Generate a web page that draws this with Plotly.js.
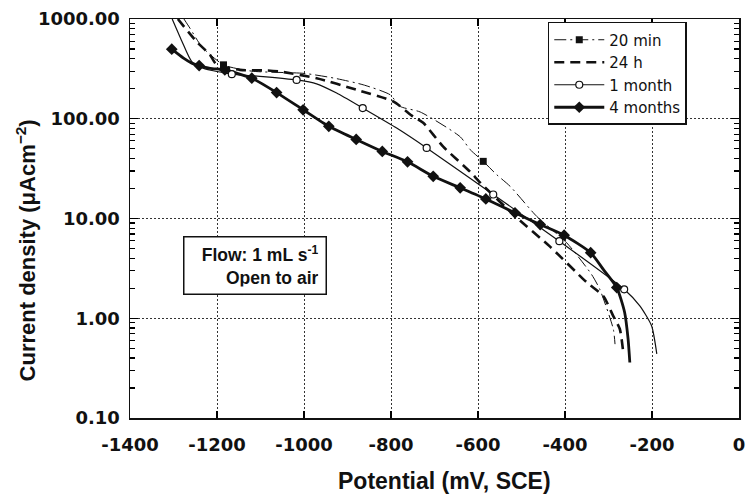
<!DOCTYPE html>
<html>
<head>
<meta charset="utf-8">
<script src="https://cdn.plot.ly/plotly-3.0.1.min.js"></script>
<style>html,body{margin:0;padding:0;background:#fff;}#chart{width:746px;height:497px;}</style>
</head>
<body>
<div id="chart"></div>
<script>
// ---- Data (potential in mV vs SCE, current density in µA/cm²) ----
// 20 min: thin dash-dot curve, filled squares
const min20X = [-1276, -1262, -1235, -1185, -1120, -1000, -930, -864, -802, -779, -733, -641, -618, -588, -557, -526, -465, -396, -339, -320, -289, -285];
const min20Y = [1000, 807, 529, 347, 300, 285, 255, 219, 174, 133, 117, 66, 49, 37.4, 27.5, 21, 10.5, 5.7, 2.75, 1.95, 0.78, 0.55];
const min20MarkX = [-1185, -588];
const min20MarkY = [347, 37.4];

// 24 h: thick dashed curve
const h24X = [-1290, -1247, -1216, -1201, -1147, -1086, -1055, -971, -879, -795, -749, -726, -680, -618, -595, -511, -435, -350, -312, -289, -274, -266];
const h24Y = [1000, 593, 437, 350, 309, 305, 297, 255, 195, 149, 105, 91, 52.5, 29.4, 22.9, 10.2, 5.25, 2.29, 1.67, 1.05, 0.78, 0.45];

// 1 month: thin solid curve, open circles
const m1X = [-1303, -1281, -1258, -1232, -1166, -1094, -1017, -971, -925, -865, -787, -718, -565, -413, -264, -228, -201, -189];
const m1Y = [1000, 603, 374, 321, 280, 265, 245, 224, 181, 128, 80.7, 51, 17.4, 5.93, 1.95, 1.33, 0.84, 0.44];
const m1MarkX = [-1166, -1017, -865, -718, -565, -413, -264];
const m1MarkY = [280, 245, 128, 51, 17.4, 5.93, 1.95];

// 4 months: thick solid curve, filled diamonds
const m4X = [-1304, -1277, -1258, -1241, -1216, -1182, -1120, -1063, -1002, -943, -880, -820, -762, -703, -641, -582, -515, -457, -402, -341, -312, -281, -263, -255, -251];
const m4Y = [498, 405, 361, 341, 320, 309, 255, 183, 123, 84, 62, 47, 37, 26.5, 20.3, 15.7, 11.4, 8.7, 6.8, 4.54, 3.09, 2.03, 1.15, 0.62, 0.36];
const m4MarkX = [-1304, -1241, -1182, -1120, -1063, -1002, -943, -880, -820, -762, -703, -641, -582, -515, -457, -402, -341, -281];
const m4MarkY = [498, 341, 309, 255, 183, 123, 84, 62, 47, 37, 26.5, 20.3, 15.7, 11.4, 8.7, 6.8, 4.54, 2.03];

const seriesNames = ['20 min', '24 h', '1 month', '4 months'];
const xTickVals = [-1400, -1200, -1000, -800, -600, -400, -200, 0];
const xTickText = ['-1400', '-1200', '-1000', '-800', '-600', '-400', '-200', '0'];
const yTickVals = [0.1, 1, 10, 100, 1000];
const yTickText = ['0.10', '1.00', '10.00', '100.00', '1000.00'];

// ---- styling ----
const INK = '#111';

const styles = [
  {line: {color: INK, width: 1, dash: '12px,4px,2px,4px'}, marker: {symbol: 'square', size: 7, color: INK}},
  {line: {color: INK, width: 2.6, dash: '10px,6px'}, marker: {symbol: 'square', size: 4, color: INK}},
  {line: {color: INK, width: 1.2}, marker: {symbol: 'circle', size: 7, color: '#fff', line: {color: INK, width: 1.2}}},
  {line: {color: INK, width: 2.8}, marker: {symbol: 'diamond', size: 9, color: INK}}
];
const curves = [[min20X, min20Y], [h24X, h24Y], [m1X, m1Y], [m4X, m4Y]];
const marks = [[min20MarkX, min20MarkY], null, [m1MarkX, m1MarkY], [m4MarkX, m4MarkY]];

const traces = [];
curves.forEach((c, i) => {
  traces.push({x: c[0], y: c[1], mode: 'lines', line: Object.assign({shape: 'spline', smoothing: 0.6}, styles[i].line),
    showlegend: false, hoverinfo: 'skip'});
});
marks.forEach((m, i) => {
  if (!m) return;
  traces.push({x: m[0], y: m[1], mode: 'markers', marker: styles[i].marker, showlegend: false});
});
// legend entries (no data of their own)
seriesNames.forEach((n, i) => {
  traces.push({x: [null], y: [null], name: n, mode: i === 1 ? 'lines' : 'lines+markers',
    line: styles[i].line, marker: styles[i].marker});
});

const tickFont = {family: 'DejaVu Sans', size: 18, color: INK, weight: 'bold'};
const layout = {
  width: 746, height: 497,
  margin: {l: 130, r: 7, t: 19, b: 79},
  paper_bgcolor: '#fff', plot_bgcolor: '#fff',
  showlegend: true,
  legend: {x: 0.686, y: 0.9925, xanchor: 'left', yanchor: 'top', bgcolor: '#fff',
    bordercolor: INK, borderwidth: 1.5, itemwidth: 50, tracegroupgap: 0,
    font: {family: 'DejaVu Sans', size: 15, color: INK}},
  xaxis: {range: [-1400, 0], tickmode: 'array', tickvals: xTickVals, ticktext: xTickText,
    tickfont: tickFont, ticks: 'inside', ticklen: 7, tickwidth: 1.2, tickcolor: '#000',
    showline: true, linecolor: INK, linewidth: 1.5, mirror: 'ticks',
    showgrid: true, gridcolor: '#333', gridwidth: 1, griddash: '2px,2px', zeroline: false,
    ticklabelstandoff: 10},
  yaxis: {type: 'log', range: [-1, 3], tickmode: 'array', tickvals: yTickVals, ticktext: yTickText,
    tickfont: tickFont, ticks: 'inside', ticklen: 8, tickwidth: 1.3, tickcolor: '#000',
    showline: true, linecolor: INK, linewidth: 1.5, mirror: 'ticks',
    showgrid: true, gridcolor: '#333', gridwidth: 1, griddash: '2px,2px', zeroline: false,
    minor: {ticks: 'inside', ticklen: 5, tickwidth: 1.2, tickcolor: '#000', dtick: 'D1', showgrid: false},
    ticklabelstandoff: 5},
  annotations: [
    {xref: 'paper', yref: 'paper', x: -0.1708, y: 0.42, xanchor: 'center', yanchor: 'middle', textangle: -90,
      showarrow: false, text: 'Current density (μAcm<sup>−2</sup>)',
      font: {family: 'Liberation Sans', size: 22, color: INK, weight: 'bold'}},
    {xref: 'paper', yref: 'paper', x: 0.517, y: -0.158, xanchor: 'center', yanchor: 'middle',
      showarrow: false, text: 'Potential (mV, SCE)',
      font: {family: 'Liberation Sans', size: 23, color: INK, weight: 'bold'}},
    {xref: 'paper', yref: 'paper', x: 0.206, y: 0.383, xanchor: 'center', yanchor: 'middle',
      showarrow: false, align: 'right', text: 'Flow: 1 mL s<sup>-1</sup><br>Open to air',
      width: 127, height: 42, borderpad: 7, bordercolor: INK, borderwidth: 1.5, bgcolor: '#fff',
      font: {family: 'Liberation Sans', size: 17.5, color: INK, weight: 'bold'}}
  ]
};

Plotly.newPlot('chart', traces, layout, {staticPlot: true, displayModeBar: false});
</script>
</body>
</html>
